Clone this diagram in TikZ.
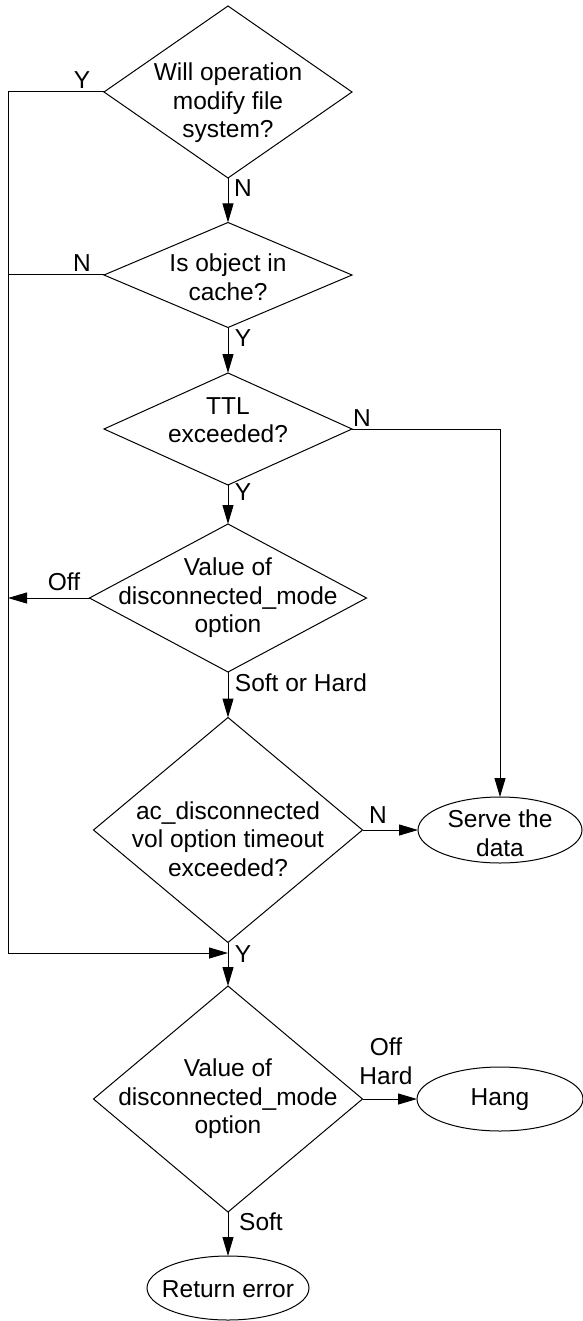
\documentclass[tikz,border=0pt]{standalone}
\usepackage{fontspec}
\setmainfont{Liberation Sans}
\usetikzlibrary{shapes.geometric,arrows.meta}
\tikzset{
  decision/.style={diamond,draw,line width=1pt,inner sep=0pt,outer sep=0pt},
  endstate/.style={ellipse,draw,line width=1pt,inner sep=0pt,outer sep=0pt},
  txt/.style={align=center,inner sep=0pt,font=\fontsize{24.5}{28.5}\selectfont},
  ln/.style={line width=1pt},
  arr/.style={line width=1pt,-{Triangle[length=19pt,width=11pt]}}
}
\begin{document}
\begin{tikzpicture}[x=1pt,y=-1pt]
    \useasboundingbox (0,0) rectangle (582,1321);
    % decision boxes
    \node [decision,minimum width=248pt,minimum height=172pt] (modify) at (228,92) {};
    \node [decision,minimum width=248pt,minimum height=105pt] (cache) at (228,275) {};
    \node [decision,minimum width=248pt,minimum height=112pt] (ttl) at (228,429) {};
    \node [decision,minimum width=277pt,minimum height=148pt] (modeA) at (228,598) {};
    \node [decision,minimum width=269pt,minimum height=225pt] (timeout) at (228,830) {};
    \node [decision,minimum width=269pt,minimum height=226pt] (modeB) at (228,1099) {};
    % end states
    \node [endstate,minimum width=164pt,minimum height=66pt] (serve) at (500,830) {};
    \node [endstate,minimum width=166pt,minimum height=64pt] (hang) at (500,1099) {};
    \node [endstate,minimum width=162pt,minimum height=64pt] (ret) at (228,1288) {};
    % texts
    \node [txt] (modify-t) at (228,103) {Will operation\\modify file\\system?};
    \node [txt] (cache-t) at (228,277) {Is object in\\cache?};
    \node [txt] (ttl-t) at (228,420) {TTL\\exceeded?};
    \node [txt] (modeA-t) at (228,598) {Value of\\disconnected\_mode\\option};
    \node [txt] (timeout-t) at (228,839) {ac\_disconnected\\vol option timeout\\exceeded?};
    \node [txt] (modeB-t) at (228,1099) {Value of\\disconnected\_mode\\option};
    \node [txt] (serve-t) at (500,833) {Serve the\\data};
    \node [txt] (hang-t) at (500,1100) {Hang};
    \node [txt] (ret-t) at (228,1289) {Return error};
    % left rail and merge point
    \coordinate (rail) at (8,953);
    \coordinate (merge) at (228,953);
    % main line
    \draw [arr] (modify.south) -- (cache.north);
    \draw [arr] (cache.south) -- (ttl.north);
    \draw [arr] (ttl.south) -- (modeA.north);
    \draw [arr] (modeA.south) -- (timeout.north);
    \draw [ln] (timeout.south) -- (merge);
    \draw [arr] (merge) -- (modeB.north);
    \draw [arr] (modeB.south) -- (ret.north);
    % branches
    \draw [arr] (modify.west) -| (rail) -- (merge);
    \draw [ln] (cache.west) -- (cache.west -| rail);
    \draw [arr] (modeA.west) -- (modeA.west -| rail);
    \draw [arr] (ttl.east) -| (serve.north);
    \draw [arr] (timeout.east) -- (serve.west);
    \draw [arr] (modeB.east) -- (hang.west);
    % some labels
    \node [txt] (l-y1) at (82,80) {Y};
    \node [txt] (l-n1) at (243,188) {N};
    \node [txt] (l-n2) at (82,263) {N};
    \node [txt] (l-y2) at (243,338) {Y};
    \node [txt] (l-n3) at (362,418) {N};
    \node [txt] (l-y3) at (243,492) {Y};
    \node [txt] (l-off) at (64,582) {Off};
    \node [txt] (l-soh) at (301,683) {Soft or Hard};
    \node [txt] (l-n4) at (378,815) {N};
    \node [txt] (l-y4) at (243,954) {Y};
    \node [txt] (l-offh) at (386,1061) {Off\\Hard};
    \node [txt] (l-soft) at (261,1222) {Soft};
\end{tikzpicture}
\end{document}
